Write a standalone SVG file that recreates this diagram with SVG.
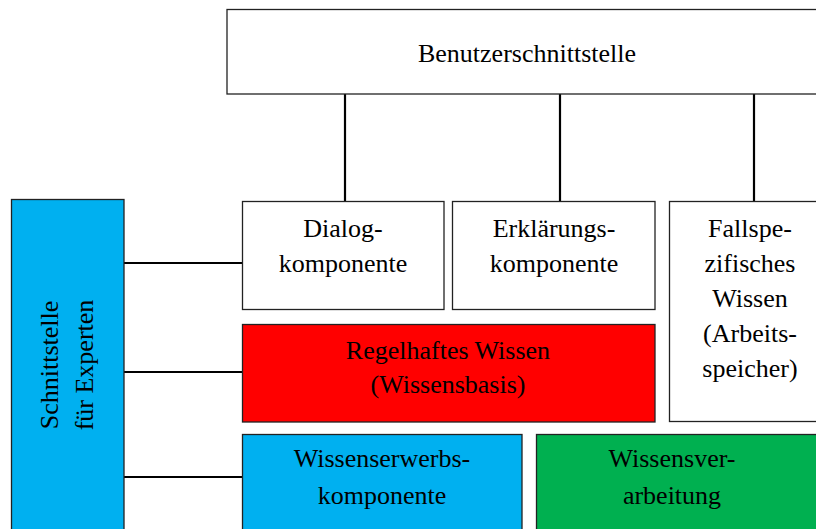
<svg xmlns="http://www.w3.org/2000/svg" width="816" height="529" viewBox="0 0 816 529">
  <style>
    .box { stroke: #222; stroke-width: 1.3; }
    .white { fill: #ffffff; }
    .blue { fill: #00B0F0; }
    .red { fill: #FF0000; }
    .green { fill: #00B050; }
    .lbl { font-family: "Liberation Serif", "Times New Roman", serif; font-size: 26px; fill: #000; text-anchor: middle; }
    .conn { stroke: #000; stroke-width: 2.2; fill: none; }
  </style>
  <rect width="816" height="529" fill="#ffffff"/>

  <!-- connectors -->
  <g id="connectors">
    <line class="conn" x1="345" y1="94" x2="345" y2="201"/>
    <line class="conn" x1="560" y1="94" x2="560" y2="201"/>
    <line class="conn" x1="754" y1="94" x2="754" y2="201"/>
    <line class="conn" x1="124" y1="263" x2="242" y2="263"/>
    <line class="conn" x1="124" y1="372" x2="242" y2="372"/>
    <line class="conn" x1="124" y1="477" x2="242" y2="477"/>
  </g>

  <g id="benutzerschnittstelle">
    <rect class="box white" x="227" y="9.5" width="610" height="84.5"/>
    <text class="lbl" x="527" y="62">Benutzerschnittstelle</text>
  </g>

  <g id="schnittstelle-experten">
    <rect class="box blue" x="11.5" y="199.5" width="112.5" height="340"/>
    <text class="lbl" transform="rotate(-90 58 365)" x="58" y="365">Schnittstelle</text>
    <text class="lbl" transform="rotate(-90 93 365)" x="93" y="365">für Experten</text>
  </g>

  <g id="dialogkomponente">
    <rect class="box white" x="242.5" y="201.5" width="201.5" height="108"/>
    <text class="lbl" x="343" y="237">Dialog-</text>
    <text class="lbl" x="343" y="272">komponente</text>
  </g>

  <g id="erklaerungskomponente">
    <rect class="box white" x="452.5" y="201.5" width="202.5" height="108"/>
    <text class="lbl" x="554" y="237">Erklärungs-</text>
    <text class="lbl" x="554" y="272">komponente</text>
  </g>

  <g id="fallspezifisches-wissen">
    <rect class="box white" x="669.5" y="201.5" width="170" height="220"/>
    <text class="lbl" x="750" y="237">Fallspe-</text>
    <text class="lbl" x="750" y="272">zifisches</text>
    <text class="lbl" x="750" y="307">Wissen</text>
    <text class="lbl" x="750" y="342">(Arbeits-</text>
    <text class="lbl" x="750" y="377">speicher)</text>
  </g>

  <g id="regelhaftes-wissen">
    <rect class="box red" x="242.5" y="324.5" width="412.5" height="97.5"/>
    <text class="lbl" x="448" y="359">Regelhaftes Wissen</text>
    <text class="lbl" x="448" y="393">(Wissensbasis)</text>
  </g>

  <g id="wissenserwerbskomponente">
    <rect class="box blue" x="242.5" y="434.5" width="279.5" height="110"/>
    <text class="lbl" x="382" y="467">Wissenserwerbs-</text>
    <text class="lbl" x="382" y="504">komponente</text>
  </g>

  <g id="wissensverarbeitung">
    <rect class="box green" x="536.5" y="434.5" width="300" height="110"/>
    <text class="lbl" x="672" y="467">Wissensver-</text>
    <text class="lbl" x="672" y="504">arbeitung</text>
  </g>
</svg>
